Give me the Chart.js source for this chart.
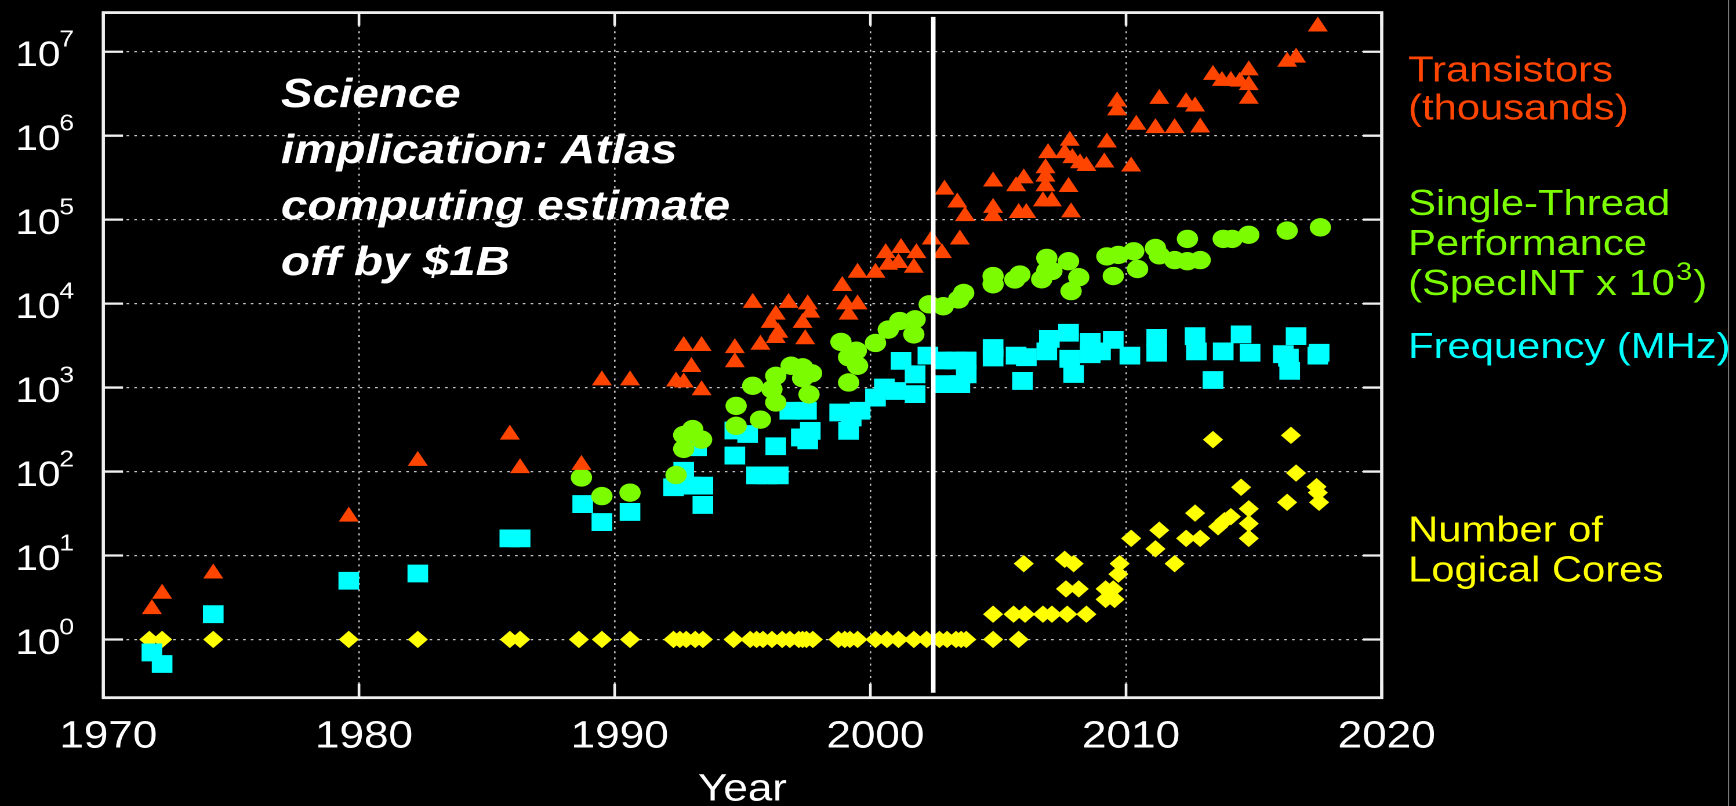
<!DOCTYPE html>
<html>
<head>
<meta charset="utf-8">
<title>42 Years of Microprocessor Trend Data</title>
<script src="https://cdn.jsdelivr.net/npm/chart.js@4.4.1/dist/chart.umd.min.js"></script>
<style>
  html, body { margin: 0; padding: 0; background: #000; overflow: hidden; }
  /* the drawing is laid out on a narrower canvas and widened horizontally */
  #wrap { position: absolute; left: 0; top: 0; width: 1497px; height: 806px;
          transform: scaleX(1.15965); transform-origin: 0 0; }
  canvas { display: block; }
</style>
</head>
<body>
<div id="wrap"><canvas id="chart" width="1497" height="806"></canvas></div>
<script>
// ---- data ----------------------------------------------------------------
const xTickYears = [1970, 1980, 1990, 2000, 2010, 2020];
const yTickExponents = [0, 1, 2, 3, 4, 5, 6, 7];

// Transistors (thousands)
const transistorYears = [
  1971.9, 1972.3, 1974.3, 1979.6, 1982.3, 1985.9, 1986.3, 1988.7, 1989.5, 1990.6,
  1992.4, 1992.7, 1992.7, 1993.0, 1993.4, 1993.4, 1994.7, 1994.7, 1995.4, 1995.7,
  1996.1, 1996.3, 1996.4, 1996.3, 1996.8, 1997.35, 1997.45, 1997.55, 1997.65, 1998.9,
  1999.05, 1999.5, 1999.15, 1999.5, 2000.2, 2000.6, 2000.7, 2001.2, 2001.1, 2001.8,
  2001.7, 2002.4, 2002.8, 2002.9, 2003.4, 2003.7, 2003.5, 2004.8, 2004.8, 2004.8,
  2005.7, 2006.0, 2005.8, 2006.1, 2006.85, 2006.85, 2006.85, 2006.95, 2006.75, 2007.1,
  2007.8, 2007.6, 2007.9, 2008.2, 2008.45, 2007.75, 2007.85, 2009.25, 2009.15, 2010.2,
  2009.65, 2009.65, 2010.4, 2011.3, 2011.15, 2011.9, 2012.35, 2012.7, 2012.9, 2013.4,
  2013.75, 2014.1, 2014.45, 2014.8, 2014.8, 2014.8, 2016.3, 2016.65, 2017.5
];
const transistorValues = [
  2.3, 3.5, 6.1, 29, 134, 275, 110, 120, 1220, 1220,
  1180, 1150, 3130, 1760, 3130, 930, 2950, 2000, 10200, 3240,
  5900, 7400, 4500, 3900, 10200, 5900, 3760, 9800, 7800, 16200,
  9800, 9800, 7400, 23300, 23300, 40000, 29000, 46000, 30500, 40000,
  26700, 58000, 40000, 228000, 160000, 110000, 58000, 285000, 138000, 110000,
  250000, 310000, 120000, 120000, 410000, 325000, 250000, 620000, 165000, 165000,
  870000, 620000, 540000, 470000, 435000, 245000, 122000, 830000, 480000, 430000,
  2550000, 2000000, 1350000, 2740000, 1230000, 1230000, 2500000, 2230000, 1250000, 5300000,
  4500000, 4500000, 4400000, 6000000, 4000000, 2750000, 7600000, 8500000, 20000000
];

// Single-thread performance (SpecINT x 10^3)
const singleThreadYears = [
  1988.7, 1989.5, 1990.6, 1992.4, 1992.7, 1992.7, 1993.05, 1993.4, 1994.75, 1994.75,
  1995.4, 1995.7, 1996.15, 1996.3, 1996.3, 1996.9, 1997.35, 1997.7, 1997.35, 1997.6,
  1998.85, 1999.45, 1999.15, 1999.5, 1999.15, 2000.2, 2000.7, 2001.15, 2001.75, 2001.7,
  2002.3, 2002.85, 2003.45, 2003.65, 2004.8, 2004.8, 2005.65, 2005.85, 2006.9, 2006.7,
  2006.9, 2007.75, 2007.1, 2008.15, 2007.85, 2009.25, 2009.7, 2010.3, 2009.5, 2010.45,
  2011.15, 2011.3, 2011.9, 2012.4, 2012.9, 2012.4, 2013.8, 2014.15, 2014.8, 2016.3,
  2017.6
];
const singleThreadValues = [
  85, 51, 56, 91, 186, 272, 320, 240, 605, 350,
  1050, 415, 955, 1380, 665, 1820, 1740, 1480, 1290, 830,
  3500, 2750, 2300, 1820, 1150, 3400, 4900, 6200, 6500, 4300,
  9800, 9300, 11200, 13400, 21300, 17000, 19400, 22200, 35000, 19500,
  24500, 32000, 24500, 20600, 14100, 36500, 38000, 42000, 21300, 25800,
  46000, 37600, 33000, 32000, 33000, 59000, 59000, 59000, 66000, 74000,
  81000
];

// Frequency (MHz)
const frequencyYears = [
  1971.9, 1972.3, 1974.3, 1979.6, 1982.3, 1985.9, 1986.3, 1988.75, 1989.5, 1990.6,
  1992.4, 1992.7, 1992.3, 1992.95, 1993.45, 1993.45, 1993.2, 1994.7, 1994.7, 1995.2,
  1995.55, 1995.95, 1996.4, 1996.3, 1996.85, 1997.5, 1997.3, 1997.65, 1997.55, 1998.8,
  1999.25, 1999.6, 1999.15, 2000.2, 2000.55, 2001.0, 2001.75, 2001.2, 2001.75, 2002.25,
  2002.9, 2003.5, 2002.8, 2003.35, 2003.75, 2003.75, 2004.8, 2004.8, 2005.95, 2005.7,
  2006.1, 2006.9, 2007.0, 2007.75, 2007.8, 2007.95, 2008.6, 2009.5, 2010.15, 2008.6,
  2009.0, 2011.2, 2011.2, 2012.7, 2012.75, 2013.4, 2013.8, 2014.5, 2014.85, 2016.35,
  2016.4, 2016.65, 2016.15, 2017.5, 2017.55
];
const frequencyValues = [
  0.7, 0.51, 2.0, 5.0, 6.1, 16, 16, 41, 25, 33,
  71, 102, 65, 68, 68, 40, 195, 155, 308, 280,
  90, 90, 90, 200, 530, 530, 255, 305, 235, 505,
  440, 530, 305, 760, 1000, 910, 835, 2080, 1440, 2400,
  1100, 1100, 2100, 2100, 2100, 1440, 2280, 2960, 1200, 2400,
  2300, 2700, 3800, 4500, 2200, 1450, 3500, 3700, 2400, 2500,
  2700, 3900, 2600, 4100, 2700, 1230, 2700, 4300, 2600, 2270,
  1580, 4100, 2500, 2400, 2600
];

// Number of logical cores
const coreYears = [
  1971.8, 1972.3, 1974.3, 1979.6, 1982.3, 1985.9, 1986.3, 1988.6, 1989.5, 1990.6,
  1992.3, 1992.55, 1992.8, 1993.15, 1993.45, 1994.65, 1995.3, 1995.55, 1995.8, 1996.15,
  1996.55, 1996.85, 1997.2, 1997.35, 1997.5, 1997.75, 1998.75, 1999.0, 1999.2, 1999.5,
  2000.2, 2000.65, 2001.1, 2001.7, 2002.2, 2002.7, 2003.0, 2003.35, 2003.55, 2003.75,
  2004.8, 2005.8,
  2004.8, 2005.6, 2006.05, 2006.75, 2007.1, 2007.7, 2008.45,
  2007.65, 2008.15, 2006.0, 2007.6, 2007.95,
  2009.2, 2009.5, 2009.2, 2009.55, 2009.7, 2009.75,
  2010.2, 2011.15, 2011.3, 2011.9, 2012.35, 2012.9, 2012.7, 2013.6, 2013.85, 2014.1,
  2014.8, 2014.8, 2014.8, 2014.5, 2013.4, 2016.45, 2016.65, 2016.3, 2017.45, 2017.5,
  2017.55
];
const coreValues = [
  1, 1, 1, 1, 1, 1, 1, 1, 1, 1,
  1, 1, 1, 1, 1, 1, 1, 1, 1, 1,
  1, 1, 1, 1, 1, 1, 1, 1, 1, 1,
  1, 1, 1, 1, 1, 1, 1, 1, 1, 1,
  1, 1,
  2, 2, 2, 2, 2, 2, 2,
  4, 4, 8, 9, 8,
  4, 4, 3, 3, 6, 8,
  16, 12, 20, 8, 16, 16, 32, 22, 26, 29,
  36, 24, 16, 65, 240, 270, 96, 43, 66, 56,
  43
];

// vertical divider
const dividerYear = 2002.46;
const dividerSpan = [0.232, 2.6e7];

// ---- layout (canvas units) ------------------------------------------------
const W = 1497, H = 806;
const plotLeft = 89.08, plotRight = 1191.5, plotTop = 10.7, plotBottom = 697.7;
const yMin = Math.pow(10, -0.6936), yMax = Math.pow(10, 7.466);

const FONT = '"Liberation Sans", Arial, Helvetica, sans-serif';
const COLORS = {
  transistors: '#ff4500',
  single: '#7cfc00',
  freq: '#00ffff',
  cores: '#ffff00'
};

const zip = (xs, ys) => xs.map((x, i) => ({ x, y: ys[i] }));

function markerSet(label, xs, ys, color, style, radius) {
  return {
    label, data: zip(xs, ys), pointStyle: style,
    pointRadius: radius, pointHoverRadius: radius,
    backgroundColor: color, borderColor: color, pointBorderWidth: 0,
    order: 1
  };
}

// ---- frame, ticks and text ----------------------------------------------
const decorations = {
  id: 'decorations',
  beforeDraw(chart) {
    const c = chart.ctx;
    c.save();
    c.fillStyle = '#000';
    c.fillRect(0, 0, chart.width, chart.height);
    c.restore();
  },
  afterDraw(chart) {
    const c = chart.ctx;
    const a = chart.chartArea;
    const xs = chart.scales.x, ys = chart.scales.y;
    c.save();

    // frame
    c.strokeStyle = '#f0f0f0';
    c.lineWidth = 2.8;
    c.strokeRect(a.left, a.top, a.right - a.left, a.bottom - a.top);

    // inward tick marks
    c.lineWidth = 2.3;
    c.beginPath();
    yTickExponents.forEach(e => {
      const py = ys.getPixelForValue(Math.pow(10, e));
      c.moveTo(a.left, py); c.lineTo(a.left + 17, py);
      c.moveTo(a.right, py); c.lineTo(a.right - 16, py);
    });
    xTickYears.forEach(v => {
      const px = xs.getPixelForValue(v);
      c.moveTo(px, a.bottom); c.lineTo(px, a.bottom - 14);
      c.moveTo(px, a.top); c.lineTo(px, a.top + 13);
    });
    c.stroke();

    // y tick labels: 10 with a raised exponent
    c.fillStyle = '#ffffff';
    c.textAlign = 'left';
    c.textBaseline = 'alphabetic';
    yTickExponents.forEach(e => {
      const py = ys.getPixelForValue(Math.pow(10, e));
      c.font = '35px ' + FONT;
      c.fillText('10', 13.2, py + 14.5);
      c.font = '23px ' + FONT;
      c.fillText(String(e), 51.1, py - 5);
    });

    // x tick labels
    c.font = '38px ' + FONT;
    c.textAlign = 'center';
    xTickYears.forEach(v => {
      c.fillText(String(v), xs.getPixelForValue(v) + 4.3, 747.5);
    });
    c.fillText('Year', (a.left + a.right) / 2, 800.5);

    // annotation
    c.font = 'italic bold 41px ' + FONT;
    c.textAlign = 'left';
    const note = ['Science', 'implication: Atlas', 'computing estimate', 'off by $1B'];
    const noteBase = [107, 163, 219, 275];
    note.forEach((t, i) => c.fillText(t, 242.3, noteBase[i]));

    // series labels
    const lx = 1214.2;
    c.font = '36px ' + FONT;
    c.fillStyle = COLORS.transistors;
    c.fillText('Transistors', lx, 81.7);
    c.fillText('(thousands)', lx, 119.3);
    c.fillStyle = COLORS.single;
    c.fillText('Single-Thread', lx, 215);
    c.fillText('Performance', lx, 255);
    const specMain = '(SpecINT x 10';
    c.fillText(specMain, lx, 295);
    let w = c.measureText(specMain).width;
    c.font = '25px ' + FONT;
    c.fillText('3', lx + w + 1, 280);
    const w3 = c.measureText('3').width;
    c.font = '36px ' + FONT;
    c.fillText(')', lx + w + w3 + 2, 295);
    c.fillStyle = COLORS.freq;
    c.fillText('Frequency (MHz)', lx, 358);
    c.fillStyle = COLORS.cores;
    c.fillText('Number of', lx, 541.7);
    c.fillText('Logical Cores', lx, 581.7);

    // page edge
    c.fillStyle = '#000';
    c.fillRect(1490.9, 0, W - 1490.9, H);
    c.strokeStyle = '#8a8a8a';
    c.lineWidth = 0.9;
    c.beginPath();
    c.moveTo(1490.6, 0); c.lineTo(1490.6, H);
    c.stroke();

    c.restore();
  }
};

// ---- chart --------------------------------------------------------------
new Chart(document.getElementById('chart'), {
  type: 'scatter',
  data: {
    datasets: [
      {
        label: 'divider', type: 'scatter', showLine: true,
        data: dividerSpan.map(v => ({ x: dividerYear, y: v })),
        borderColor: '#ffffff', borderWidth: 3.9, pointRadius: 0, order: 0
      },
      markerSet('Transistors (thousands)', transistorYears, transistorValues, COLORS.transistors, 'triangle', 10),
      markerSet('Single-Thread Performance (SpecINT x 10^3)', singleThreadYears, singleThreadValues, COLORS.single, 'circle', 9.2),
      markerSet('Frequency (MHz)', frequencyYears, frequencyValues, COLORS.freq, 'rect', 12.6),
      markerSet('Number of Logical Cores', coreYears, coreValues, COLORS.cores, 'rectRot', 8.7)
    ]
  },
  options: {
    responsive: false,
    maintainAspectRatio: false,
    animation: false,
    devicePixelRatio: 2,
    events: [],
    layout: { padding: { left: 0, right: W - plotRight, top: plotTop, bottom: 0 } },
    plugins: { legend: { display: false }, tooltip: { enabled: false } },
    scales: {
      x: {
        type: 'linear', min: 1970, max: 2020,
        afterBuildTicks: s => { s.ticks = xTickYears.map(v => ({ value: v })); },
        afterFit: s => { s.height = H - plotBottom; },
        ticks: { display: false },
        grid: { color: '#c4c4c4', lineWidth: 1.3, drawTicks: false },
        border: { display: false, dash: [2, 4.2] }
      },
      y: {
        type: 'logarithmic', min: yMin, max: yMax, bounds: 'data',
        afterBuildTicks: s => { s.ticks = yTickExponents.map(e => ({ value: Math.pow(10, e) })); },
        afterFit: s => { s.width = plotLeft; },
        ticks: { display: false },
        grid: { color: '#c4c4c4', lineWidth: 1.3, drawTicks: false },
        border: { display: false, dash: [2.3, 4.4] }
      }
    }
  },
  plugins: [decorations]
});
</script>
</body>
</html>
